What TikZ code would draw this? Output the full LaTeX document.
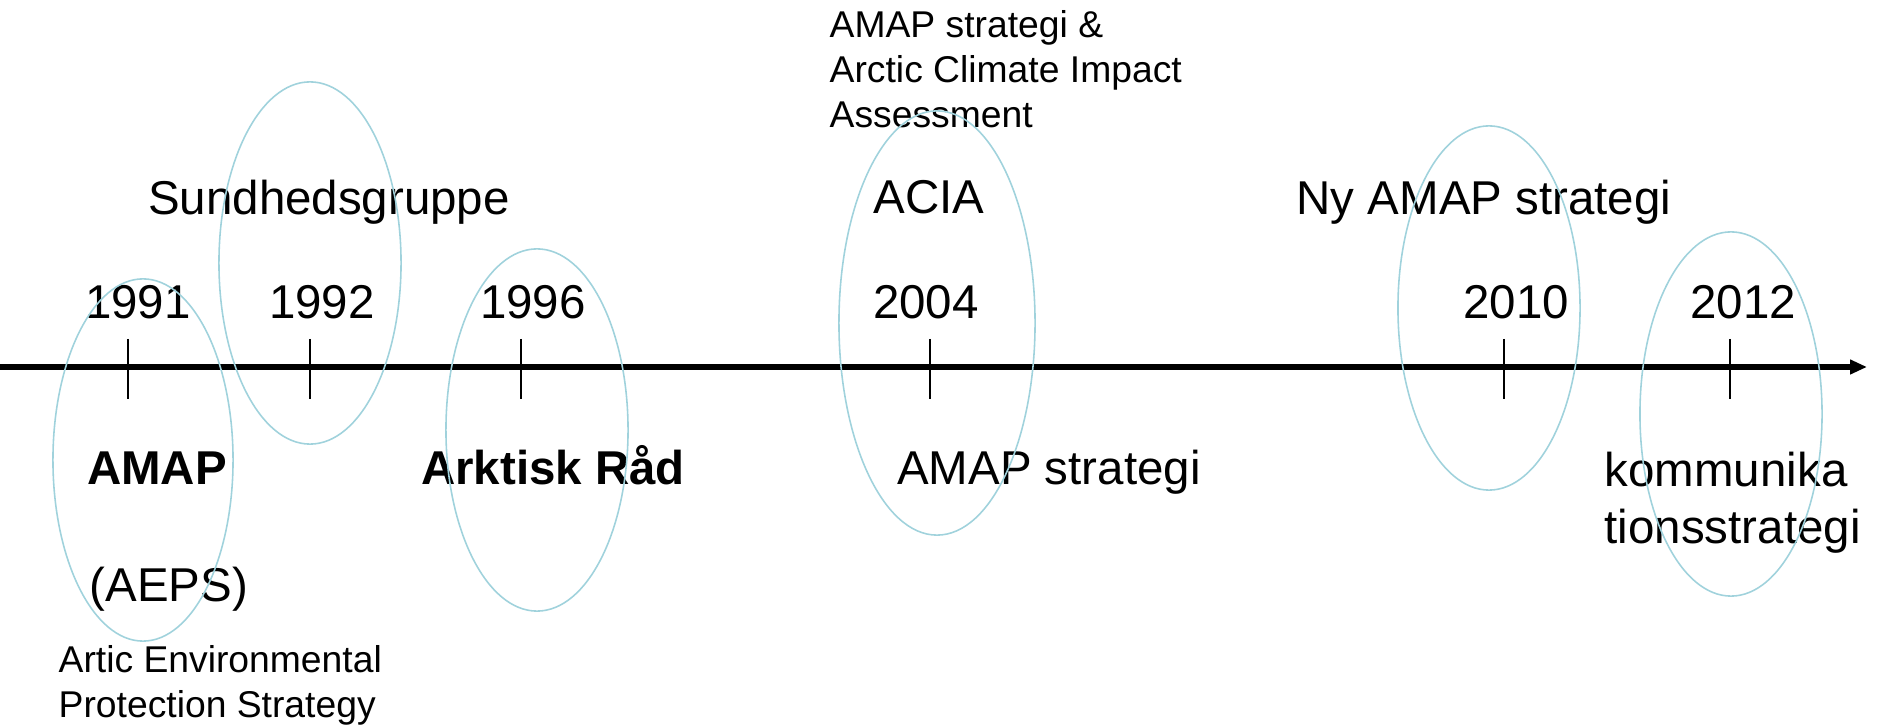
\documentclass[tikz,border=0pt]{standalone}
\usepackage{fontspec}
\setmainfont{Liberation Sans}
\usepackage{tikz}
\usetikzlibrary{arrows.meta,positioning,shapes.geometric}
\definecolor{ovalblue}{RGB}{160,210,220}

\begin{document}
\begin{tikzpicture}[x=0.01cm,y=-0.01cm]
  \tikzstyle{lbl} = [inner sep=0,anchor=base,font=\fontsize{13.5pt}{16.2pt}\selectfont];
  \tikzstyle{note} = [inner sep=0,anchor=north west,align=left,font=\fontsize{10.6pt}{12.7pt}\selectfont];
  \tikzstyle{oval} = [ellipse,draw=ovalblue,line width=.45pt,inner sep=0,minimum width=1.82cm,minimum height=3.62cm];
  \useasboundingbox (0,0) rectangle (1878,725);
  % time axis
  \coordinate (start) at (0,367);
  \coordinate (end) at (1867,367);
  \draw[line width=1.6pt,-{Triangle[length=0.17cm,width=0.14cm]}] (start) -- (end);
  \foreach \yr/\x/\lx in {1991/128/138,1992/310/322,1996/521/533,2004/930/926,2010/1504/1516,2012/1730/1743}{
    \coordinate (t\yr) at (\x,367);
    \draw[line width=.6pt] (\x,339) -- (\x,399);
    \node[lbl] (y\yr) at (\lx,319) {\yr};
  }
  % above the axis
  \node[lbl] (sund) at (329,215) {Sundhedsgruppe};
  \node[lbl] (acia) at (929,214) {ACIA};
  \node[lbl] (nyamap) at (1484,215) {Ny AMAP strategi};
  \node[note] (aciatxt) at (829,10) {AMAP strategi \&\\Arctic Climate Impact\\Assessment};
  % below the axis
  \node[lbl] (amap) at (157,485) {\bfseries AMAP};
  \node[lbl,anchor=base west] (aeps) at (89,602) {(AEPS)};
  \node[note] (aepstxt) at (58,645) {Artic Environmental\\Protection Strategy};
  \node[lbl] (arktisk) at (553,485) {\bfseries Arktisk Råd};
  \node[lbl] (amapstrat) at (1049,485) {AMAP strategi};
  \node[lbl,anchor=north west,align=left] (komm) at (1604,451) {kommunika\\tionsstrategi};
  % ovals
  \node[oval,minimum width=1.8cm] (o1991) at (143,460) {};
  \node[oval] (o1992) at (310,263) {};
  \node[oval] (o1996) at (537,430) {};
  \node[oval,minimum width=1.96cm,minimum height=4.24cm] (o2004) at (937,323) {};
  \node[oval,minimum height=3.64cm] (o2010) at (1489,308) {};
  \node[oval,minimum height=3.64cm] (o2012) at (1731,414) {};
\end{tikzpicture}
\end{document}
